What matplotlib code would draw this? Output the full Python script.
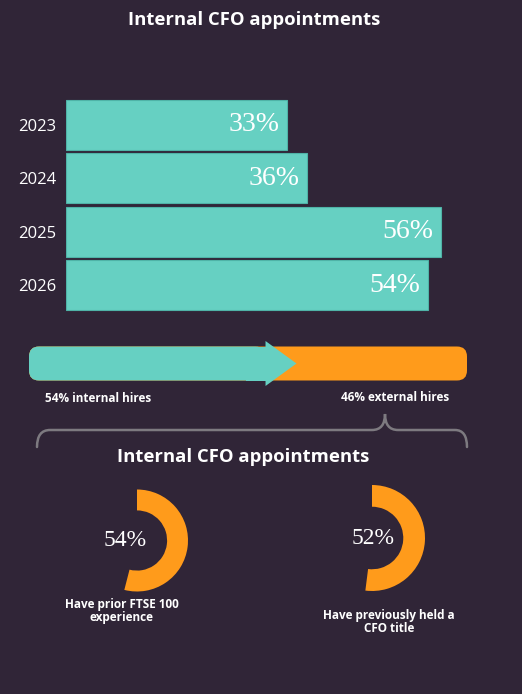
import matplotlib.pyplot as plt
from matplotlib.patches import FancyBboxPatch, Rectangle, Polygon
from matplotlib.path import Path
from matplotlib.patches import PathPatch

# Data
years = ['2023', '2024', '2025', '2026']
internal_pct = [33, 36, 56, 54]
internal_hires = 54
external_hires = 46
donut_values = [54, 52]
donut_captions = ['Have prior FTSE 100\nexperience', 'Have previously held a\nCFO title']
title = 'Internal CFO appointments'

BG = '#302537'
TEAL = '#66d0c2'
ORANGE = '#ff9b1b'
W, H = 522, 694

fig = plt.figure(figsize=(W / 100, H / 100), dpi=100, facecolor=BG)


def px_axes(x0, y0, x1, y1):
    # axes placed by pixel box (top-left origin)
    return fig.add_axes([x0 / W, 1 - y1 / H, (x1 - x0) / W, (y1 - y0) / H])


# overlay for text / decoration in pixel coords
deco = fig.add_axes([0, 0, 1, 1], zorder=5)
deco.set_xlim(0, W)
deco.set_ylim(H, 0)
deco.axis('off')

bold = dict(family='Open Sans', weight='bold', color='white')

deco.text(254, 20, title, ha='center', va='center', fontsize=13.3, **bold)

# Bar chart of internal appointments per year
ax = px_axes(66, 98, 468, 312)
ax.set_facecolor('none')
ax.barh(range(len(years)), internal_pct, height=0.93, color=TEAL,
        edgecolor='#4fb3a7', linewidth=0.8)
ax.set_xlim(0, 60)
ax.set_ylim(len(years) - 0.5, -0.5)
ax.set_yticks(range(len(years)), years, fontsize=12, color='white',
              family='Open Sans')
ax.tick_params(axis='y', length=0, pad=7)
ax.set_xticks([])
for s in ax.spines.values():
    s.set_visible(False)
for i, v in enumerate(internal_pct):
    ax.annotate(f'{v}%', (v, i), xytext=(-8, 0), textcoords='offset pixels',
                ha='right', va='center', fontsize=20, color='white',
                family='Liberation Serif')

# Internal vs external progress bar
pax = px_axes(29, 341, 467, 386)
pax.set_xlim(0, internal_hires + external_hires)
pax.set_ylim(0, 45)
pax.axis('off')
total = internal_hires + external_hires
ux = 438 / total  # px per x unit
r = 10
pax.add_patch(FancyBboxPatch((0, 5.5), total, 34,
                             boxstyle=f'round,pad=0,rounding_size={r / ux}',
                             mutation_aspect=ux, color=ORANGE, lw=0))
pax.add_patch(FancyBboxPatch((0, 5.5), internal_hires, 34,
                             boxstyle=f'round,pad=0,rounding_size={r / ux}',
                             mutation_aspect=ux, color=TEAL, lw=0))
pax.add_patch(Rectangle((internal_hires - 2 * r / ux, 5.5), 2 * r / ux, 34,
                        color=TEAL, lw=0))
pax.add_patch(Polygon([(internal_hires, 0), (internal_hires, 45),
                       (internal_hires + 31 / ux, 22.5)],
                      closed=True, color=TEAL, lw=0))

deco.text(45, 398, f'{internal_hires}% internal hires', ha='left',
          va='center', fontsize=8.5, **bold)
deco.text(449, 397, f'{external_hires}% external hires', ha='right',
          va='center', fontsize=8.5, **bold)

# Curly brace
verts = [(37, 447), (37, 430), (50, 430),
         (372, 430), (385, 430), (385, 414),
         (385, 430), (398, 430),
         (455, 430), (467, 430), (467, 447)]
codes = [Path.MOVETO, Path.CURVE3, Path.CURVE3,
         Path.LINETO, Path.CURVE3, Path.CURVE3,
         Path.CURVE3, Path.CURVE3,
         Path.LINETO, Path.CURVE3, Path.CURVE3]
deco.add_patch(PathPatch(Path(verts, codes), fill=False, edgecolor='#7d7a80',
                         lw=1.8, capstyle='round'))

deco.text(243, 457, title, ha='center', va='center', fontsize=13.3, **bold)

# Donuts
donut_boxes = [(137, 540.5, 51), (372, 538, 53)]
text_pos = [(125, 540), (373, 538)]
cap_pos = [(122, 611), (389, 622)]
for val, cap, (cx, cy, rad), (tx, ty), (kx, ky) in zip(
        donut_values, donut_captions, donut_boxes, text_pos, cap_pos):
    dax = px_axes(cx - rad, cy - rad, cx + rad, cy + rad)
    dax.pie([val, 100 - val], colors=[ORANGE, 'none'], startangle=90,
            counterclock=False, radius=1,
            wedgeprops=dict(width=0.41, linewidth=0))
    dax.set_xlim(-1, 1)
    dax.set_ylim(-1, 1)
    deco.text(tx, ty, f'{val}%', ha='center', va='center', fontsize=17,
              color='white', family='Liberation Serif')
    deco.text(kx, ky, cap, ha='center', va='center', fontsize=8.5,
              linespacing=1.05, **bold)

fig.savefig('out.png', dpi=100, facecolor=BG)
